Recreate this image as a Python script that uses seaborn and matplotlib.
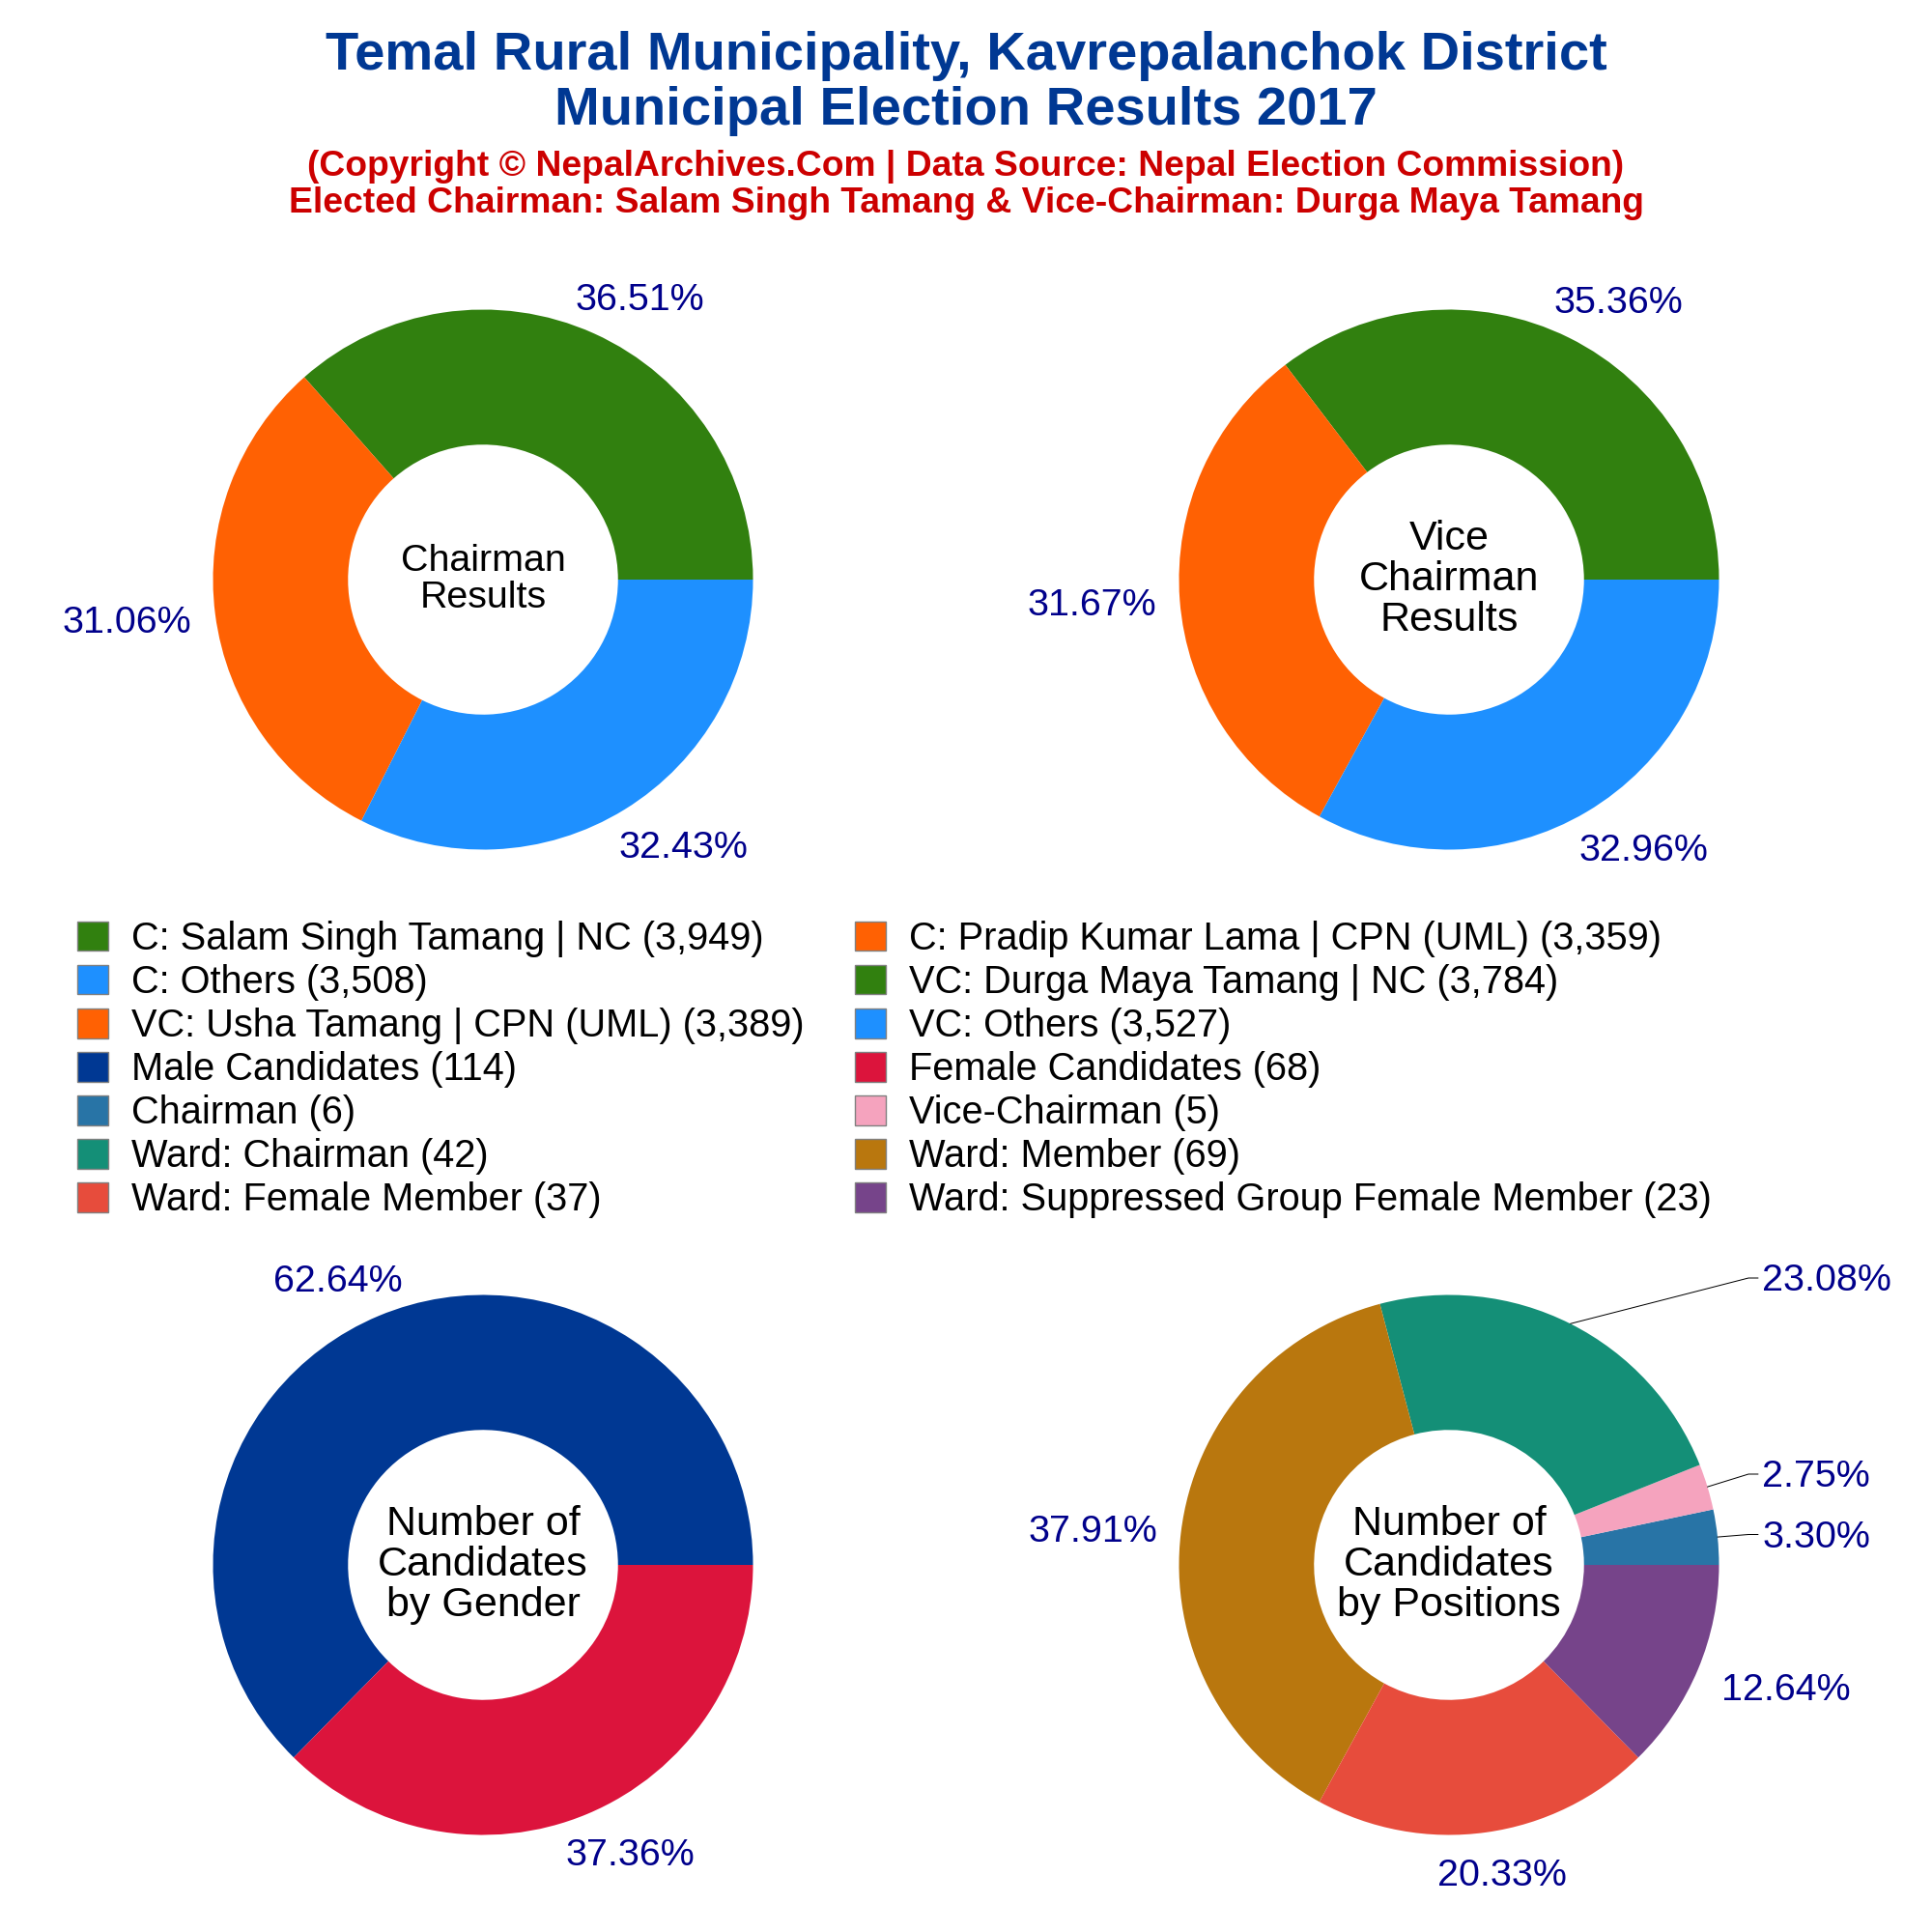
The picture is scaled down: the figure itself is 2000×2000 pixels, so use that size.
import numpy as np
import seaborn as sns
import matplotlib.pyplot as plt
from matplotlib.patches import Patch

# chairman results
chair_names = ['C: Salam Singh Tamang | NC', 'C: Pradip Kumar Lama | CPN (UML)', 'C: Others']
chair_votes = [3949, 3359, 3508]
# vice chairman results
vice_names = ['VC: Durga Maya Tamang | NC', 'VC: Usha Tamang | CPN (UML)', 'VC: Others']
vice_votes = [3784, 3389, 3527]
# candidates by gender
gender_names = ['Male Candidates', 'Female Candidates']
gender_counts = [114, 68]
# candidates by position
pos_names = ['Chairman', 'Vice-Chairman', 'Ward: Chairman', 'Ward: Member',
             'Ward: Female Member', 'Ward: Suppressed Group Female Member']
pos_counts = [6, 5, 42, 69, 37, 23]

chair_colors = ['#31800f', '#ff6103', '#1e90ff']
gender_colors = ['#003893', '#dc143c']
pos_colors = ['#2874a6', '#f5a3be', '#148f77', '#b9770e', '#e74c3c', '#76448a']

sns.set_theme(style='white')
plt.rcParams['font.family'] = ['Liberation Sans', 'DejaVu Sans']

SIZE = 2000
R = 279.5  # pie radius in pixels
fig = plt.figure(figsize=(20, 20), dpi=100)
fig.patch.set_facecolor('white')


def draw_donut(cx, cy, values, colors, label_off, center_text, center_size):
    half = R * 1.25
    ax = fig.add_axes([(cx - half) / SIZE, 1 - (cy + half) / SIZE, 2 * half / SIZE, 2 * half / SIZE])
    ax.pie(values, colors=sns.color_palette(colors), radius=1, startangle=0, counterclock=True,
           wedgeprops={'width': 0.5, 'linewidth': 0})
    total = sum(values)
    for v, (dx, dy, ha) in zip(values, label_off):
        ax.text(dx / R, (dy - 3) / R, '%.2f%%' % (100.0 * v / total), color='#00008b', fontsize=28.4,
                ha=ha, va='center')
    ax.text(0, 0, center_text, fontsize=center_size, color='black', ha='center', va='center',
            linespacing=1.08)
    return ax


ax1 = draw_donut(500, 600, chair_votes, chair_colors,
                 [(162, 292, 'center'), (-369, -42, 'center'), (207, -275, 'center')],
                 'Chairman\nResults', 28.4)
ax2 = draw_donut(1500, 600, vice_votes, chair_colors,
                 [(175, 289, 'center'), (-370, -24, 'center'), (201, -278, 'center')],
                 'Vice\nChairman\nResults', 31)
ax3 = draw_donut(500, 1620, gender_counts, gender_colors,
                 [(-150, 296, 'center'), (152, -298, 'center')],
                 'Number of\nCandidates\nby Gender', 31)
ax4 = draw_donut(1500, 1620, pos_counts, pos_colors,
                 [(324, 31, 'left'), (324, 94, 'left'), (324, 297, 'left'),
                  (-369, 37, 'center'), (55, -319, 'center'), (349, -127, 'center')],
                 'Number of\nCandidates\nby Positions', 31)

# leader lines for the labels on the right of the last pie
cum = np.cumsum(pos_counts)
for i, y_end in [(0, 31.5), (1, 94), (2, 297)]:
    ang = np.radians((cum[i] - pos_counts[i] / 2.0) / cum[-1] * 360)
    ax4.plot([np.cos(ang), 310.0 / R, 320.0 / R], [np.sin(ang), y_end / R, y_end / R],
             color='black', lw=0.72, clip_on=False, solid_joinstyle='round')
ax4.set_xlim(-1.25, 1.25)
ax4.set_ylim(-1.25, 1.25)

# titles
fig.text(0.5, 1 - 58 / SIZE, 'Temal Rural Municipality, Kavrepalanchok District', color='#003893',
         fontsize=40.4, fontweight='bold', ha='center', va='center')
fig.text(0.5, 1 - 115 / SIZE, 'Municipal Election Results 2017', color='#003893',
         fontsize=40.4, fontweight='bold', ha='center', va='center')
fig.text(0.5, 1 - 173 / SIZE, '(Copyright © NepalArchives.Com | Data Source: Nepal Election Commission)',
         color='#cc0000', fontsize=26.8, fontweight='bold', ha='center', va='center')
fig.text(0.5, 1 - 210 / SIZE, 'Elected Chairman: Salam Singh Tamang & Vice-Chairman: Durga Maya Tamang',
         color='#cc0000', fontsize=26.8, fontweight='bold', ha='center', va='center')

# legend, filled row by row in the reference
names = chair_names + vice_names + gender_names + pos_names
counts = chair_votes + vice_votes + gender_counts + pos_counts
colors = chair_colors + chair_colors + gender_colors + pos_colors
handles = [Patch(facecolor=c, edgecolor='#808080', linewidth=1, label='%s (%s)' % (n, format(v, ',')))
           for n, v, c in zip(names, counts, colors)]
fig.legend(handles=[handles[i] for i in [0, 2, 4, 6, 8, 10, 12, 1, 3, 5, 7, 9, 11, 13]], ncol=2,
           loc='upper left', bbox_to_anchor=(80 / SIZE, 1 - 953 / SIZE), borderaxespad=0, borderpad=0,
           frameon=False, fontsize=28.6, handlelength=0.8, handleheight=0.8, handletextpad=0.6,
           labelspacing=0.178, columnspacing=1.34, labelcolor='black')

fig.savefig('out.png', dpi=100)
